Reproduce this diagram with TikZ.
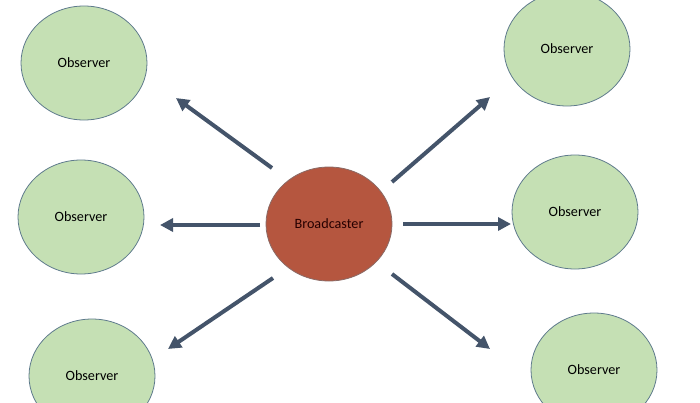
\documentclass[tikz,border=0pt]{standalone}
\usepackage{fontspec}
\setmainfont{Carlito}
\usetikzlibrary{shapes.geometric,arrows.meta}
\definecolor{obsfill}{HTML}{C5E0B4}
\definecolor{obsline}{HTML}{5E7A8C}
\definecolor{bcfill}{HTML}{B5563F}
\definecolor{bcline}{HTML}{8A6A66}
\definecolor{arrowcol}{HTML}{44546A}
\tikzset{
  obs/.style={ellipse, draw=obsline, fill=obsfill, line width=0.8pt,
    minimum width=126pt, minimum height=114pt, inner sep=0pt,
    font=\fontsize{14.2}{16}\selectfont, text=black},
  bc/.style={obs, draw=bcline, fill=bcfill, text=black!85!red},
  conn/.style={draw=arrowcol, line width=4pt,
    -{Triangle[length=13pt,width=13pt]}}
}
\begin{document}
\begin{tikzpicture}[x=1pt,y=-1pt]
\useasboundingbox (0,0) rectangle (700,402);
\node[obs] (o1) at (84,63) {Observer};
\node[obs] (o2) at (81,217) {Observer};
\node[obs] (o3) at (92,376) {Observer};
\node[obs] (o4) at (567,49) {Observer};
\node[obs] (o5) at (575,212) {Observer};
\node[obs] (o6) at (594,370) {Observer};
\node[bc] (b) at (329,224) {Broadcaster};
\coordinate (s1) at (272,168); \coordinate (t1) at (176,98);
\coordinate (s2) at (260,225); \coordinate (t2) at (160,225);
\coordinate (s3) at (273,278); \coordinate (t3) at (168,349);
\coordinate (s4) at (392,182); \coordinate (t4) at (490,97);
\coordinate (s5) at (403,224); \coordinate (t5) at (511,224);
\coordinate (s6) at (392,274); \coordinate (t6) at (490,349);
\foreach \i in {1,...,6} { \draw[conn] (s\i) -- (t\i); }
\end{tikzpicture}
\end{document}
